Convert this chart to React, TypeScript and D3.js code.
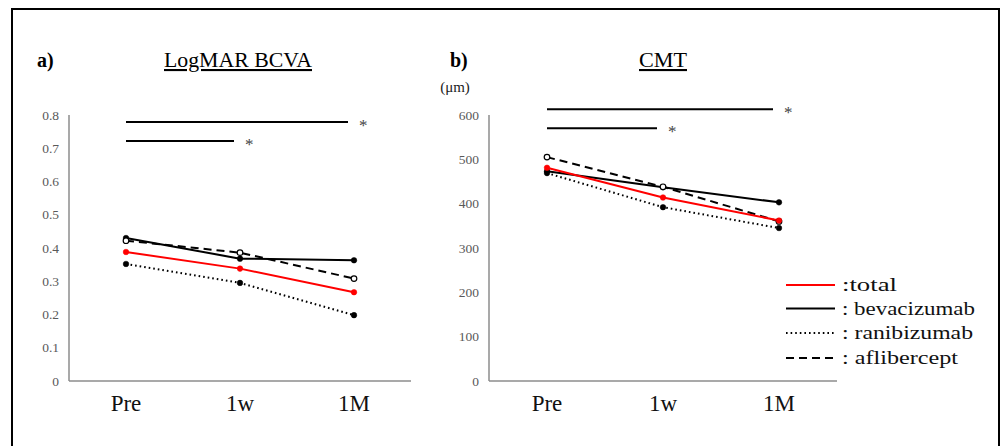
import React from "react";
import * as d3 from "d3";

const categories = ["Pre", "1w", "1M"];
const seriesNames = ["total", "bevacizumab", "ranibizumab", "aflibercept"];

// Panel a: LogMAR BCVA
const bcvaTotal = [0.388, 0.338, 0.267];
const bcvaBeva = [0.43, 0.368, 0.363];
const bcvaRani = [0.352, 0.295, 0.198];
const bcvaAfli = [0.422, 0.386, 0.308];
const bcvaTicks = [0, 0.1, 0.2, 0.3, 0.4, 0.5, 0.6, 0.7, 0.8];
const bcvaSig = [
  { from: "Pre", to: "1M", y: 0.779 },
  { from: "Pre", to: "1w", y: 0.722 },
];

// Panel b: CMT
const cmtTotal = [481, 414, 362];
const cmtBeva = [473, 437, 403];
const cmtRani = [469, 392, 345];
const cmtAfli = [505, 438, 360];
const cmtTicks = [0, 100, 200, 300, 400, 500, 600];
const cmtSig = [
  { from: "Pre", to: "1M", y: 613 },
  { from: "Pre", to: "1w", y: 570 },
];

const legendLabels = [":total", ": bevacizumab", ": ranibizumab", ": aflibercept"];

const styles: Record<string, { color: string; dash: string; marker: "red" | "black" | "open" }> = {
  total: { color: "#ff0000", dash: "", marker: "red" },
  bevacizumab: { color: "#000", dash: "", marker: "black" },
  ranibizumab: { color: "#000", dash: "1.6,3", marker: "black" },
  aflibercept: { color: "#000", dash: "8,5", marker: "open" },
};

const SERIF = "'Liberation Serif', 'Times New Roman', serif";

type PanelProps = {
  label: string;
  title: string;
  titleLen: number;
  unit?: string;
  axisX: number;
  axisRight: number;
  domainMax: number;
  ticks: number[];
  tickFmt: (v: number) => string;
  data: number[][];
  sig: { from: string; to: string; y: number }[];
  titleX: number;
  labelX: number;
};

function Panel(p: PanelProps) {
  const y = d3.scaleLinear().domain([0, p.domainMax]).range([381, 115]);
  const x = d3.scaleBand().domain(categories).range([p.axisX, p.axisRight]);
  const cx = (c: string) => (x(c) as number) + x.bandwidth() / 2;
  const line = d3
    .line<number>()
    .x((_, i) => cx(categories[i]))
    .y((d) => y(d));
  const order = [1, 2, 3, 0];
  return (
    <g>
      <text x={p.labelX} y={67} fontFamily={SERIF} fontWeight="bold" fontSize={20}>
        {p.label}
      </text>
      <text
        x={p.titleX}
        y={67}
        textAnchor="middle"
        fontFamily={SERIF}
        fontSize={21}
        textDecoration="underline"
        textLength={p.titleLen}
        lengthAdjust="spacingAndGlyphs"
      >
        {p.title}
      </text>
      {p.unit && (
        <text x={p.axisX - 34} y={92} textAnchor="middle" fontFamily={SERIF} fontSize={15} fill="#222">
          {p.unit}
        </text>
      )}
      <line x1={p.axisX} x2={p.axisX} y1={y(p.domainMax)} y2={y(0)} stroke="#8c8c8c" strokeWidth={1.5} />
      <line x1={p.axisX} x2={p.axisRight} y1={y(0)} y2={y(0)} stroke="#8c8c8c" strokeWidth={1.5} />
      {p.ticks.map((t) => (
        <text key={t} x={p.axisX - 10} y={y(t) + 4.5} textAnchor="end" fontFamily={SERIF} fontSize={13.5} fill="#595959">
          {p.tickFmt(t)}
        </text>
      ))}
      {categories.map((c) => (
        <text key={c} x={cx(c)} y={411} textAnchor="middle" fontFamily={SERIF} fontSize={23} fill="#111">
          {c}
        </text>
      ))}
      {p.sig.map((s, i) => (
        <g key={i}>
          <line x1={cx(s.from)} x2={cx(s.to) - 6} y1={y(s.y)} y2={y(s.y)} stroke="#000" strokeWidth={2} />
          <text x={cx(s.to) + 5} y={y(s.y) + 9} fontFamily={SERIF} fontSize={17} fill="#444">
            *
          </text>
        </g>
      ))}
      {order.map((si) => {
        const name = seriesNames[si];
        const st = styles[name];
        return (
          <path key={name} d={line(p.data[si]) || ""} fill="none" stroke={st.color} strokeWidth={2} strokeDasharray={st.dash} />
        );
      })}
      {order.map((si) => {
        const name = seriesNames[si];
        const st = styles[name];
        return p.data[si].map((v, i) => (
          <circle
            key={name + i}
            cx={cx(categories[i])}
            cy={y(v)}
            r={2.8}
            fill={st.marker === "open" ? "#fff" : st.color}
            stroke={st.marker === "open" ? "#000" : st.color}
            strokeWidth={st.marker === "open" ? 1.2 : 0.5}
          />
        ));
      })}
    </g>
  );
}

export default function App() {
  const legendY = [285, 308.5, 333, 358];
  const legendLen = [55, 133, 131, 116];
  return (
    <svg width={1000} height={446} style={{ position: "absolute", left: 0, top: 0, background: "#fff" }}>
      <rect x={0} y={0} width={1000} height={446} fill="#fff" />
      <rect x={12} y={9} width={987} height={460} fill="none" stroke="#000" strokeWidth={2} />
      <Panel
        label="a)"
        title="LogMAR BCVA"
        titleLen={148}
        axisX={69}
        axisRight={411}
        domainMax={0.8}
        ticks={bcvaTicks}
        tickFmt={(v) => (v === 0 ? "0" : d3.format(".1f")(v))}
        data={[bcvaTotal, bcvaBeva, bcvaRani, bcvaAfli]}
        sig={bcvaSig}
        titleX={238}
        labelX={37}
      />
      <Panel
        label="b)"
        title="CMT"
        titleLen={48}
        unit="(μm)"
        axisX={489}
        axisRight={837}
        domainMax={600}
        ticks={cmtTicks}
        tickFmt={(v) => String(v)}
        data={[cmtTotal, cmtBeva, cmtRani, cmtAfli]}
        sig={cmtSig}
        titleX={663}
        labelX={450}
      />
      {seriesNames.map((n, i) => {
        const st = styles[n];
        return (
          <g key={n}>
            <line x1={786} x2={835} y1={legendY[i]} y2={legendY[i]} stroke={st.color} strokeWidth={2} strokeDasharray={st.dash} />
            <text
              x={842}
              y={legendY[i] + 6}
              fontFamily={SERIF}
              fontSize={19}
              fill="#111"
              textLength={legendLen[i]}
              lengthAdjust="spacingAndGlyphs"
            >
              {legendLabels[i]}
            </text>
          </g>
        );
      })}
    </svg>
  );
}
